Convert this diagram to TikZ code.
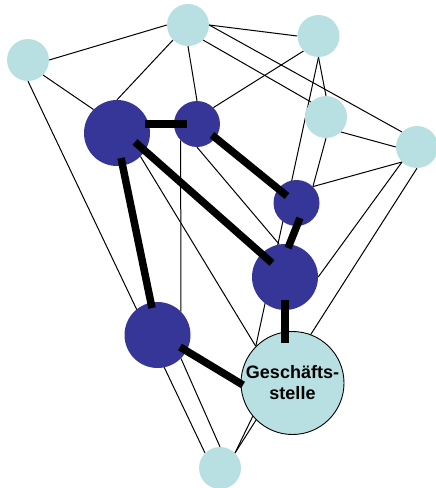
\documentclass[tikz,border=0pt]{standalone}
\usepackage{fontspec}
\setmainfont{Liberation Sans}
\usetikzlibrary{calc,backgrounds}
\definecolor{lightc}{RGB}{184,224,226}
\definecolor{darkc}{RGB}{54,54,153}
\begin{document}
\begin{tikzpicture}[x=1pt,y=-1pt,
  lnode/.style={circle,fill=lightc,draw=none,minimum size=42pt,inner sep=0pt},
  dsmall/.style={circle,fill=darkc,draw=none,minimum size=46pt,inner sep=0pt},
  dbig/.style={circle,fill=darkc,draw=none,minimum size=66pt,inner sep=0pt},
  gnode/.style={circle,fill=lightc,draw=black,line width=0.9pt,minimum size=103pt,inner sep=0pt,align=center,font=\fontsize{18pt}{21pt}\selectfont\bfseries},
  thinline/.style={draw=black,line width=1pt},
  strongline/.style={draw=black,line width=7.5pt,line cap=butt}]
\useasboundingbox (0,0) rectangle (436,488);
% light nodes
\node[lnode] (L1) at (28,60) {};
\node[lnode] (L2) at (188,25) {};
\node[lnode] (L3) at (318.5,36) {};
\node[lnode] (L4) at (326,117) {};
\node[lnode] (L5) at (417,147) {};
\node[lnode] (L6) at (220,468) {};
% dark nodes
\node[dbig] (D1) at (117,133) {};
\node[dsmall] (D2) at (197,124) {};
\node[dsmall] (D3) at (296.5,203) {};
\node[dbig] (D4) at (285,277) {};
\node[dbig] (D5) at (157.5,335) {};
% office
\node[gnode] (G) at (292.5,383) {Geschäfts-\\stelle};
% thin connectors behind
\begin{pgfonlayer}{background}
\draw[thinline] (L1.east) -- (L2.west);
\draw[thinline] (L1.-45) -- (D1.135);
\draw[thinline] (L1.south) -- (L6.135);
\draw[thinline] (L2.-135) -- (D1.north);
\draw[thinline] (L2.south) -- (D2.north);
\draw[thinline] (L2.east) -- (L3.west);
\draw[thinline] (L2.-45) -- (L4.135);
\draw[thinline] (L2.east) -- (L5.135);
\draw[thinline] (L3.-135) -- (D2.45);
\draw[thinline] (L3.south) -- (L4.north);
\draw[thinline] (L3.south) -- (G.135);
\draw[thinline] (L4.-45) -- (L5.west);
\draw[thinline] (L4.south) -- (D3.45);
\draw[thinline] (L5.-135) -- (D3.45);
\draw[thinline] (L5.-135) -- (D4.east);
\draw[thinline] (L5.south) -- (L6.45);
\draw[thinline] (G.-140) -- (L6.45);
\draw[thinline] (D1.-45) -- (G.135);
\draw[thinline] (D2.-135) -- (D5.45);
\draw[thinline] (D2.south) -- (D4.100);
\draw[thinline] (D5.-45) -- (L6.north);
\end{pgfonlayer}
% thick connectors on top
\draw[strongline] ($(D1)+(28,-9)$) -- ($(D2)+(-10,0)$);
\draw[strongline] ($(D1)+(18,9)$) -- ($(D4)+(-13,-14)$);
\draw[strongline] ($(D1)+(4,25)$) -- ($(D5)+(-5.5,-27)$);
\draw[strongline] ($(D2)+(15,11)$) -- ($(D3)+(-9.5,-7)$);
\draw[strongline] ($(D3)+(3.5,15)$) -- ($(D4)+(3,-29)$);
\draw[strongline] ($(D4)+(0,23)$) -- ($(D4)+(0,66)$);
\draw[strongline] ($(D5)+(22.5,12)$) -- ($(G)+(-49.5,2)$);
\end{tikzpicture}
\end{document}
